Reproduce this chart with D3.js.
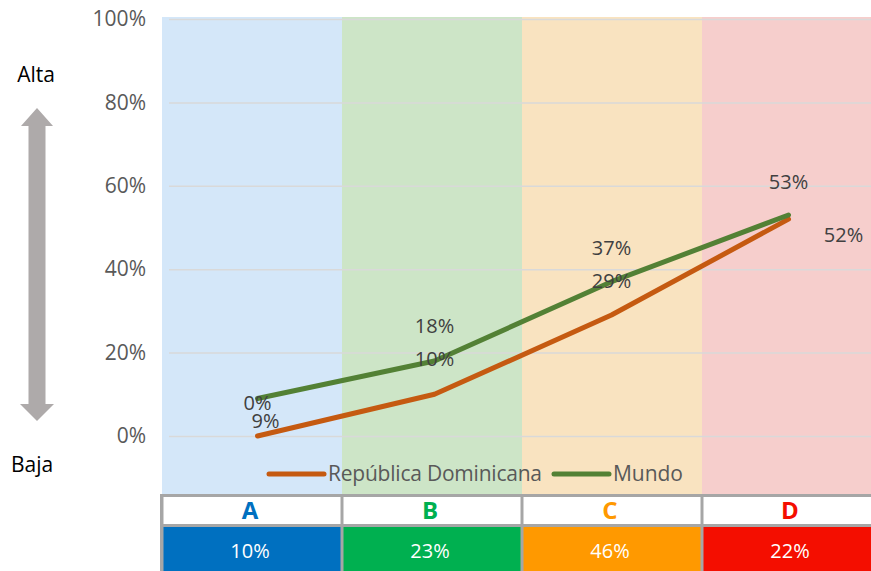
<!DOCTYPE html>
<html>
<head>
<meta charset="utf-8">
<script src="https://cdn.jsdelivr.net/npm/d3@7"></script>
<style>
  body { margin: 0; background: #fff; }
  svg text { font-family: "Open Sans", "Noto Sans", sans-serif; }
</style>
</head>
<body>
<div id="svgcontainer"></div>
<script>
var width = 871;
var height = 571;

// data
var categories = ["A", "B", "C", "D"];
var shares = ["10%", "23%", "46%", "22%"];
var rdValues = [0, 0.10, 0.29, 0.52];
var mundoValues = [0.09, 0.18, 0.37, 0.53];
var yTicks = [0, 0.2, 0.4, 0.6, 0.8, 1.0];
var seriesNames = ["República Dominicana", "Mundo"];

// styles
var bandColors = ["#d4e7f9", "#cde5c7", "#f9e3c0", "#f6cecc"];
var catColors = ["#0070c0", "#00b050", "#ff9900", "#f40e00"];
var lineColors = ["#c55a11", "#538135"];
// label offsets (px) from each point, per series
var rdLabelOff = [[0, -33], [0, -35], [0, -34], [55, 16]];
var mundoLabelOff = [[8, 23], [0, -35], [0, -34], [0, -33]];

var svg = d3.select("#svgcontainer")
  .append("svg")
  .attr("width", width)
  .attr("height", height);

var bands = d3.scaleBand()
  .domain(categories)
  .range([162, 882]);

var x = d3.scalePoint()
  .domain(categories)
  .range([169, 877])
  .padding(0.5);

var y = d3.scaleLinear()
  .domain([0, 1])
  .range([436, 19]);

// background bands
svg.append("g")
  .selectAll("rect")
  .data(categories)
  .enter()
  .append("rect")
  .attr("x", function(d){ return bands(d); })
  .attr("y", 17)
  .attr("width", bands.bandwidth())
  .attr("height", 477)
  .attr("fill", function(d, i){ return bandColors[i]; });

// grid + y axis labels
var yAxis = d3.axisLeft(y)
  .tickValues(yTicks)
  .tickFormat(d3.format(".0%"))
  .tickSize(-(871 - 169))
  .tickPadding(23);

var gy = svg.append("g")
  .attr("transform", "translate(169,0)")
  .call(yAxis);
gy.select(".domain").remove();
gy.selectAll(".tick line").attr("stroke", "#d9d9d9").attr("stroke-width", 1.5);
gy.selectAll(".tick text")
  .attr("fill", "#595959")
  .style("font-size", "21px");

// lines
var line = d3.line()
  .x(function(d, i){ return x(categories[i]); })
  .y(function(d){ return y(d); });

var series = [rdValues, mundoValues];
var offsets = [rdLabelOff, mundoLabelOff];

series.forEach(function(vals, s){
  svg.append("path")
    .datum(vals)
    .attr("d", line)
    .attr("fill", "none")
    .attr("stroke", lineColors[s])
    .attr("stroke-width", 5)
    .attr("stroke-linecap", "round")
    .attr("stroke-linejoin", "round");
});

series.forEach(function(vals, s){
  svg.append("g")
    .selectAll("text")
    .data(vals)
    .enter()
    .append("text")
    .attr("x", function(d, i){ return x(categories[i]) + offsets[s][i][0]; })
    .attr("y", function(d, i){ return y(d) + offsets[s][i][1]; })
    .attr("dy", "0.35em")
    .attr("text-anchor", "middle")
    .attr("fill", "#404040")
    .style("font-size", "20px")
    .text(function(d){ return d3.format(".0%")(d); });
});

// legend
var legend = svg.append("g");
var legendX = [269, 554];
var legendLen = [55, 55];
var legendText = [214, 70];
seriesNames.forEach(function(name, s){
  legend.append("line")
    .attr("x1", legendX[s]).attr("x2", legendX[s] + legendLen[s])
    .attr("y1", 474).attr("y2", 474)
    .attr("stroke", lineColors[s])
    .attr("stroke-width", 5)
    .attr("stroke-linecap", "round");
  legend.append("text")
    .attr("x", legendX[s] + legendLen[s] + 4)
    .attr("y", 474)
    .attr("dy", "0.35em")
    .attr("fill", "#595959")
    .attr("textLength", legendText[s])
    .style("font-size", "21px")
    .text(name);
});

// arrow
var arrow = svg.append("g").attr("fill", "#aeaaaa");
arrow.append("path")
  .attr("d", "M37 108 L53 126 L45.5 126 L45.5 404 L54 404 L37 421 L20 404 L28.5 404 L28.5 126 L21 126 Z");

svg.append("text")
  .attr("x", 36).attr("y", 75).attr("dy", "0.35em")
  .attr("text-anchor", "middle")
  .style("font-size", "21px")
  .attr("fill", "#000")
  .text("Alta");

svg.append("text")
  .attr("x", 32).attr("y", 465).attr("dy", "0.35em")
  .attr("text-anchor", "middle")
  .style("font-size", "21px")
  .attr("fill", "#000")
  .text("Baja");

// table
var table = svg.append("g");

// grey backing so the cell separators show in the coloured row
table.append("rect")
  .attr("x", 160)
  .attr("y", 494)
  .attr("width", 720)
  .attr("height", 77)
  .attr("fill", "#a6a6a6");

table.selectAll(".head")
  .data(categories)
  .enter()
  .append("rect")
  .attr("class", "head")
  .attr("x", function(d){ return bands(d) + 1.5; })
  .attr("y", 497)
  .attr("width", bands.bandwidth() - 3)
  .attr("height", 27)
  .attr("fill", "#fff");

table.selectAll(".cell")
  .data(categories)
  .enter()
  .append("rect")
  .attr("class", "cell")
  .attr("x", function(d){ return bands(d) + 1.5; })
  .attr("y", 527)
  .attr("width", bands.bandwidth() - 3)
  .attr("height", 44)
  .attr("fill", function(d, i){ return catColors[i]; });

table.selectAll(".letter")
  .data(categories)
  .enter()
  .append("text")
  .attr("x", function(d){ return bands(d) + bands.bandwidth() / 2 - 2; })
  .attr("y", 511)
  .attr("dy", "0.35em")
  .attr("text-anchor", "middle")
  .attr("fill", function(d, i){ return catColors[i]; })
  .style("font-size", "24px")
  .style("font-weight", "bold")
  .text(function(d){ return d; });

table.selectAll(".share")
  .data(shares)
  .enter()
  .append("text")
  .attr("x", function(d, i){ return bands(categories[i]) + bands.bandwidth() / 2 - 2; })
  .attr("y", 551)
  .attr("dy", "0.35em")
  .attr("text-anchor", "middle")
  .attr("fill", "#fff")
  .style("font-size", "20px")
  .text(function(d){ return d; });
</script>
</body>
</html>
